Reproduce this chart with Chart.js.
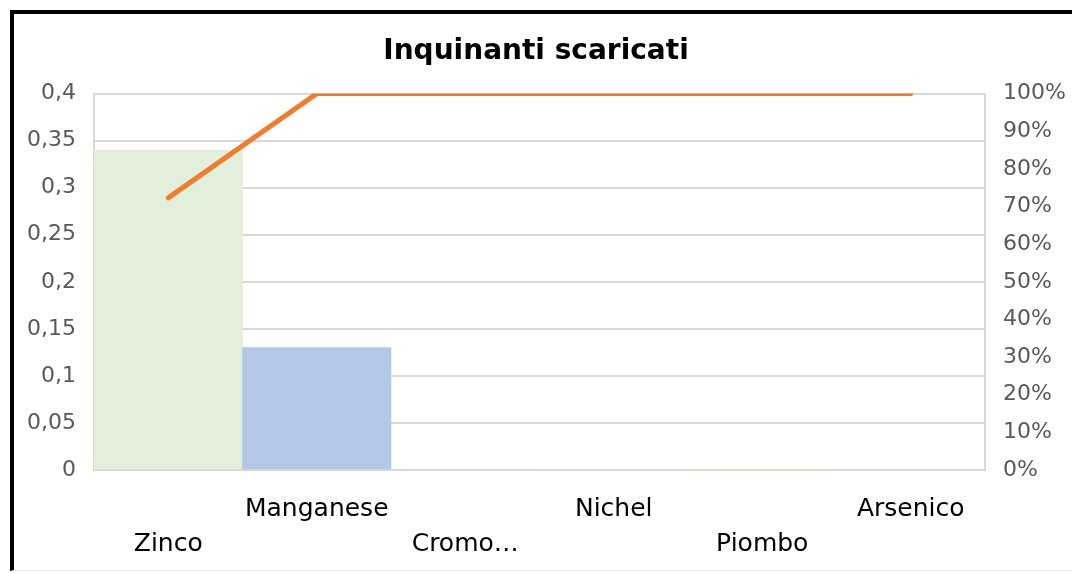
<!DOCTYPE html>
<html>
<head>
<meta charset="utf-8">
<script src="https://cdn.jsdelivr.net/npm/chart.js@4.4.1/dist/chart.umd.min.js"></script>
<style>
  html, body { margin: 0; padding: 0; background: #fff; }
  #frame {
    position: absolute; left: 10px; top: 10px; width: 1062px; height: 561px;
    border-left: 4px solid #000; border-top: 4px solid #000; border-bottom: 1px solid #ececec;
    box-sizing: border-box;
  }
  #wrap { position: absolute; left: 0; top: 0; width: 1072px; height: 573px; }
</style>
</head>
<body>
<div id="frame"></div>
<div id="wrap"><canvas id="chart" width="1072" height="573"></canvas></div>
<script>
// data
const categories = ['Zinco', 'Manganese', 'Cromo…', 'Nichel', 'Piombo', 'Arsenico'];
const quantities = [0.34, 0.13, 0, 0, 0, 0];
const cumulativePct = [72.3, 100, 100, 100, 100, 100];
const leftTicks = [0, 0.05, 0.1, 0.15, 0.2, 0.25, 0.3, 0.35, 0.4];
const rightTicks = [0, 10, 20, 30, 40, 50, 60, 70, 80, 90, 100];

const barColors = ['#e2efda', '#b4c7e7', '#f8cbad', '#dbdbdb', '#ffe699', '#bdd7ee'];
const gridGrey = '#d9d9d9';
const font = '"DejaVu Sans", sans-serif';

new Chart(document.getElementById('chart'), {
  data: {
    labels: categories,
    datasets: [
      {
        type: 'line',
        label: 'Cumulata',
        data: cumulativePct,
        yAxisID: 'y1',
        borderColor: '#ed7d31',
        borderWidth: 5,
        borderCapStyle: 'round',
        borderJoinStyle: 'round',
        pointRadius: 0,
        tension: 0,
        order: 0
      },
      {
        type: 'bar',
        label: 'Quantità',
        data: quantities,
        yAxisID: 'y',
        backgroundColor: barColors,
        categoryPercentage: 1,
        barPercentage: 1,
        order: 1
      }
    ]
  },
  options: {
    responsive: false,
    animation: false,
    layout: { padding: 0 },
    plugins: {
      legend: { display: false },
      tooltip: { enabled: false },
      title: {
        display: true,
        text: 'Inquinanti scaricati',
        color: '#000',
        font: { family: font, size: 28, weight: 'bold', lineHeight: 1.2 },
        padding: { top: 35, bottom: 25 }
      }
    },
    scales: {
      x: {
        grid: { display: false, drawTicks: false },
        border: { display: true, color: gridGrey, width: 2 },
        ticks: {
          autoSkip: false,
          maxRotation: 0,
          minRotation: 0,
          padding: 22,
          color: '#000',
          font: { family: font, size: 25, lineHeight: 1.4 },
          callback: function (v, i) {
            const name = categories[i];
            return i % 2 === 0 ? ['', name] : [name, ''];
          }
        },
        afterFit: function (s) { s.height = 103; }
      },
      y: {
        position: 'left',
        min: 0,
        max: 0.4,
        afterBuildTicks: function (s) { s.ticks = leftTicks.map(v => ({ value: v })); },
        grid: { color: gridGrey, lineWidth: 2, drawTicks: false },
        border: { display: true, color: gridGrey, width: 2 },
        ticks: {
          padding: 18,
          color: '#595959',
          font: { family: font, size: 22 },
          callback: function (v) { return String(Math.round(v * 100) / 100).replace('.', ','); }
        },
        afterFit: function (s) { s.width = 94; }
      },
      y1: {
        position: 'right',
        min: 0,
        max: 100,
        afterBuildTicks: function (s) { s.ticks = rightTicks.map(v => ({ value: v })); },
        grid: { display: false, drawTicks: false },
        border: { display: true, color: gridGrey, width: 2 },
        ticks: {
          padding: 18,
          color: '#595959',
          font: { family: font, size: 22 },
          callback: function (v) { return v + '%'; }
        },
        afterFit: function (s) { s.width = 87; }
      }
    }
  }
});
</script>
</body>
</html>
